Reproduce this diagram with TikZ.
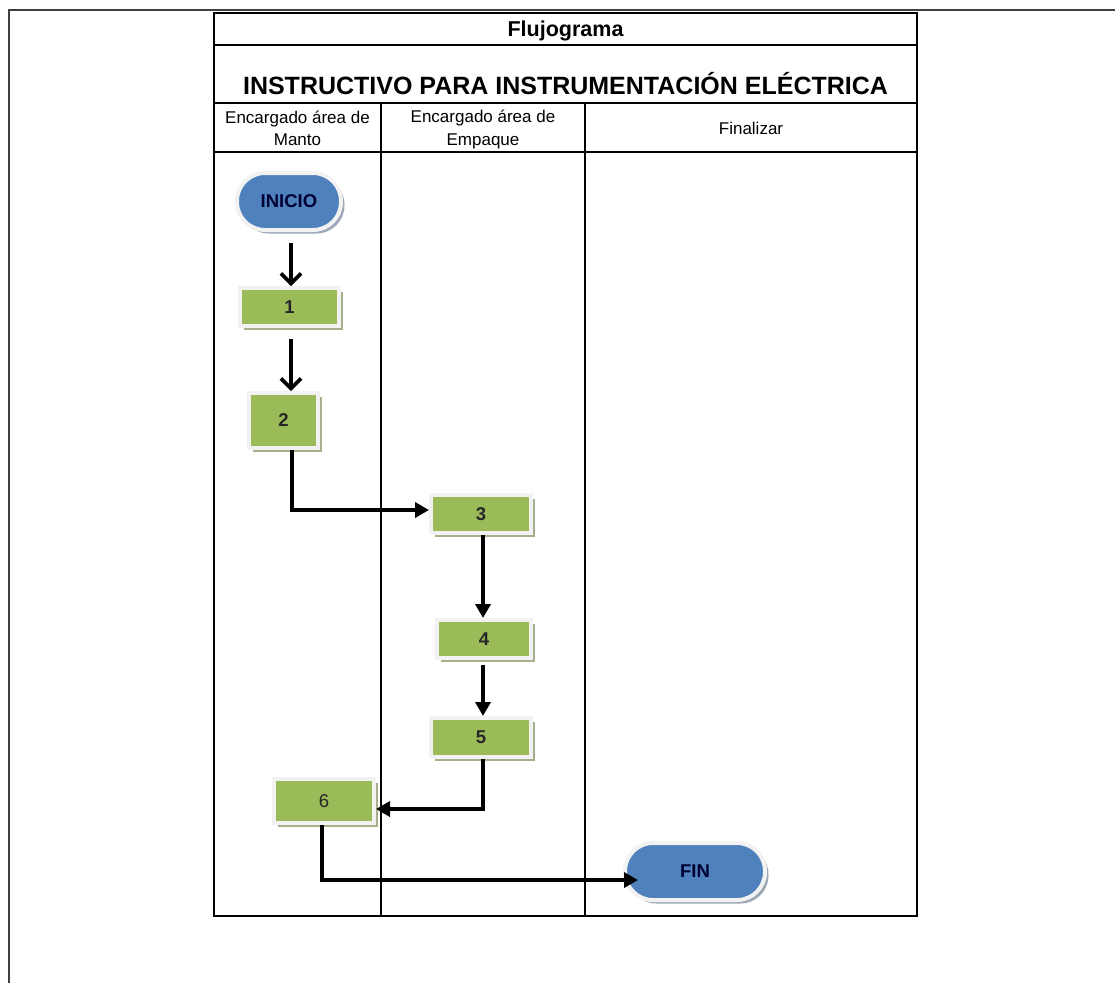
\documentclass[tikz,border=0pt]{standalone}
\usepackage{fontspec}
\setmainfont{Liberation Sans}
\usetikzlibrary{arrows.meta,shadows}
\definecolor{boxgreen}{HTML}{9BBB59}
\definecolor{termblue}{HTML}{4F81BD}
\definecolor{rimgray}{HTML}{F2F2F2}
\definecolor{shadegreen}{HTML}{A7B08C}
\definecolor{shadeblue}{HTML}{9DA7B5}

\begin{document}
\begin{tikzpicture}[x=1pt,y=-1pt,
        task box/.style={rectangle,fill=boxgreen,draw=rimgray,line width=4pt,inner sep=0pt,
            font=\fontsize{18.5}{20}\selectfont\bfseries,text=black!85,
            drop shadow={shadow xshift=3.5pt,shadow yshift=-3.5pt,fill=shadegreen,opacity=1}},
        end node/.style={rectangle,rounded corners=28pt,fill=termblue,draw=rimgray,line width=4pt,
            minimum width=104pt,minimum height=57pt,inner sep=0pt,
            font=\fontsize{18.5}{20}\selectfont\bfseries,text=black!80!blue,
            drop shadow={shadow xshift=3.5pt,shadow yshift=-3.5pt,fill=shadeblue,opacity=1}},
        flow/.style={line width=3.6pt,-{Triangle[length=14pt,width=15pt]}},
        barb/.style={line width=3.6pt,-{Straight Barb[length=10pt,width=20pt]}},
        lane/.style={line width=1.3pt},
        head/.style={font=\fontsize{17}{22.5}\selectfont,align=center}]

    \useasboundingbox (0,0) rectangle (1115,983);

    % frame and lanes
    \draw[line width=1.5pt,black!75] (1115,10) -- (9,10) -- (9,983);
    \draw[lane] (214,13) rectangle (917,916);
    \draw[lane] (214,45) -- (917,45) (214,103) -- (917,103) (214,152) -- (917,152);
    \draw[lane] (381,103) -- (381,916) (585,103) -- (585,916);

    \node[font=\fontsize{21.5}{24}\selectfont\bfseries,anchor=base] (title) at (565.5,36) {Flujograma};
    \node[font=\fontsize{25}{28}\selectfont\bfseries,anchor=base] (subtitle) at (565.5,94)
        {INSTRUCTIVO PARA INSTRUMENTACIÓN ELÉCTRICA};
    \node[head] (lane1) at (297.5,128.5) {Encargado área de\\Manto};
    \node[head] (lane2) at (483,129.5) {Encargado área de\\Empaque};
    \node[head] (lane3) at (751,128) {Finalizar};

    % steps
    \node[end node] (I) at (289,201.5) {INICIO};
    \node[task box,minimum width=99pt,minimum height=38pt] (1) at (289.5,307) {1};
    \node[task box,minimum width=69pt,minimum height=55pt] (2) at (283.5,420.5) {2};
    \node[task box,minimum width=100pt,minimum height=38pt] (3) at (481,514) {3};
    \node[task box,minimum width=94pt,minimum height=38pt] (4) at (484,639) {4};
    \node[task box,minimum width=100pt,minimum height=39pt] (5) at (481,737.5) {5};
    \node[task box,minimum width=100pt,minimum height=44pt,font=\fontsize{18.5}{20}\selectfont] (6) at (324,801) {6};
    \node[end node,minimum width=140pt] (F) at (695,871.5) {FIN};

    \path[barb]
    ([xshift=2pt,yshift=-11pt]I.south) edge ([xshift=1.5pt]1.north)
    ([xshift=1.5pt,yshift=-11pt]1.south) edge ([xshift=7.5pt]2.north);
    \path[flow]
    ([xshift=2pt]3.south) edge ([xshift=-1pt]4.north)
    ([xshift=-1pt,yshift=-5pt]4.south) edge ([xshift=2pt]5.north);
    \draw[flow] ([xshift=8.5pt]2.south) |- ([yshift=4pt]3.west);
    \draw[flow] ([xshift=2pt]5.south) |- ([yshift=-8pt]6.east);
    \draw[flow,shorten >=-15pt] ([xshift=-2pt]6.south) |- ([yshift=-8.5pt]F.west);

\end{tikzpicture}
\end{document}
